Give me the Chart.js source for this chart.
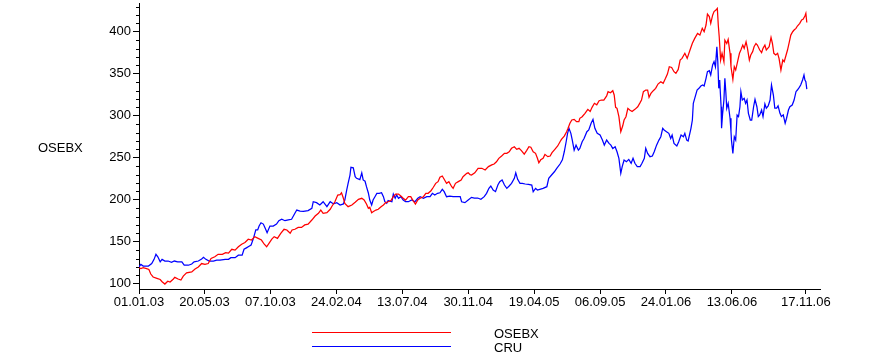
<!DOCTYPE html>
<html>
<head>
<meta charset="utf-8">
<script src="https://cdn.jsdelivr.net/npm/chart.js@4.4.1/dist/chart.umd.min.js"></script>
<style>
  html, body { margin: 0; padding: 0; background: #fff; }
  canvas { display: block; }
</style>
</head>
<body>
<canvas id="c" width="869" height="359"></canvas>
<script>
// ---- Data (x = days since 01.01.03) ----
const seriesNames = ['OSEBX', 'CRU'];
const seriesColors = ['#ff0000', '#0000ff'];
const yAxisTitle = 'OSEBX';
const xTickLabels = ['01.01.03','20.05.03','07.10.03','24.02.04','13.07.04','30.11.04','19.04.05','06.09.05','24.01.06','13.06.06','17.11.06'];
const yTickValues = [100, 150, 200, 250, 300, 350, 400];

const osebxDays = [
  0,4,9,16,21,25,30,38,45,49,
  55,61,66,73,76,83,89,94,101,112,
  119,126,133,140,147,153,161,168,177,184,
  190,197,204,211,218,225,232,239,246,253,
  260,266,271,276,282,287,294,301,308,314,
  321,325,331,338,345,352,359,367,374,381,
  386,391,399,406,410,416,422,427,430,434,
  437,444,452,459,466,473,478,483,487,490,
  494,497,503,508,514,519,524,529,535,540,
  545,551,556,561,566,572,577,582,587,592,
  597,604,609,614,620,625,630,635,639,644,
  648,653,658,664,667,672,678,684,688,696,
  699,703,706,713,720,728,735,742,749,754,
  759,764,770,776,781,786,791,797,802,807,
  812,818,823,828,832,837,842,846,849,853,
  858,862,868,873,877,883,889,894,897,903,
  908,911,915,919,924,929,934,936,941,947,
  953,958,962,967,972,977,982,987,993,996,
  1001,1006,1009,1012,1015,1019,1023,1027,1030,1034,
  1038,1042,1047,1053,1059,1064,1067,1071,1076,1080,
  1083,1087,1092,1097,1102,1108,1113,1118,1122,1126,
  1131,1136,1140,1145,1149,1153,1159,1164,1170,1175,
  1180,1186,1191,1196,1200,1204,1207,1211,1214,1218,
  1221,1225,1228,1230,1232,1235,1238,1242,1244,1248,
  1251,1255,1257,1261,1264,1267,1271,1275,1278,1282,
  1285,1289,1292,1296,1299,1303,1306,1310,1313,1318,
  1322,1325,1329,1332,1338,1342,1345,1348,1352,1356,
  1359,1363,1367,1370,1374,1377,1381,1384,1388,1391,
  1395,1398,1403,1407,1410,1414,1416,1418
];
const osebxValues = [
  119,118,119,118,117,111.5,108,106.4,105,102.4,
  99.6,103,102,105.6,107.6,105.6,104.4,109,113,114,
  117.5,120,124,123,124,130,132,135,135,137,
  136.5,141,140,144,147,149,153,152,156,154,
  152,147,144,148,153,156,154,160,164.8,164,
  160,164,164.8,167,167,170,171,175.8,180.6,183.8,
  187.7,183.8,184.5,188.6,192.5,197.6,205.6,206,208.3,201.7,
  195.7,191.7,193.7,197,200.5,201.7,199.6,194.9,189.8,191,
  184.5,185.7,187.7,188.6,191.7,193.7,196.5,197.6,199,203.6,
  206.8,206.8,204.4,201.7,199.6,203.6,203.6,199,194.9,199.6,
  201.7,203.6,207.6,207.6,210.7,214.8,219.5,221.5,226.7,228.2,
  224.3,219.5,221.5,215.5,213.5,219.5,221.5,223.5,227.4,231.4,
  232,229.8,229.4,232,237.4,237.4,235.4,239.4,241.4,242.5,
  245.2,249.3,252,255.2,255.2,257.1,261.2,263.1,260,261.2,
  258.5,254.3,258.5,263.1,262.5,257.1,255.2,249.3,244,247.5,
  249.3,254,251.3,252,256,260,264,269,271.8,275.8,
  281,285,291,294.9,295.7,293,293,296.9,298.8,302.8,
  307.6,305,310,314.8,313,317.9,318.7,318.7,323.5,328.6,
  327.4,329.8,324.7,310,308.8,298.8,281,287.7,294.9,298.8,
  308.8,306.8,305,307.6,310.7,315.6,318.7,328.6,330.6,330.6,
  321.9,326.6,329.8,332.6,337.7,340.5,338.5,344.5,349.6,358.3,
  357.5,352.4,350.4,355.1,366.3,368.3,374.3,368.3,378.2,386.2,
  392.1,398,396,404,400,408,421,418,410,419.7,
  424,425.8,427.8,408,394,366.3,374.3,364.3,390,386,
  390.9,374.3,358.3,343.3,358.3,354.4,364.3,374.3,378.2,384.1,
  380.2,388.1,380.2,366.3,372.3,376.3,382.1,386,384.1,378.2,
  375,380.2,384.1,378.2,382.1,393.3,386,374.3,372.3,374.3,
  368.3,354.4,366.3,364.3,372.3,378.2,388.1,396,400,402,
  404,406.8,410,414,414.7,418.7,421.9,411
];

const cruDays = [
  0,4,9,20,27,32,36,40,45,49,
  55,62,69,75,82,91,96,105,112,117,
  126,133,137,142,149,158,165,172,183,190,
  195,204,211,219,223,229,232,238,243,248,
  252,255,259,264,268,272,278,285,292,297,
  303,310,317,324,331,335,342,349,359,367,
  370,377,384,391,399,406,413,420,427,434,
  437,441,444,448,450,455,459,462,469,473,
  476,480,483,487,490,494,497,501,505,510,
  515,519,522,526,529,537,540,544,547,551,
  556,561,566,572,579,586,592,597,604,611,
  618,623,628,634,639,644,648,653,660,667,
  675,682,685,692,699,706,712,719,726,733,
  738,743,747,752,757,762,766,771,776,781,
  786,791,797,800,804,809,814,820,827,834,
  837,842,846,851,858,866,870,876,882,887,
  894,899,903,907,910,913,917,920,924,928,
  933,936,941,945,951,955,960,964,968,973,
  979,984,988,993,998,1002,1006,1011,1015,1019,
  1023,1026,1030,1035,1040,1045,1049,1053,1058,1064,
  1068,1073,1076,1080,1085,1090,1094,1099,1104,1108,
  1112,1115,1120,1125,1129,1132,1136,1142,1146,1151,
  1156,1159,1163,1166,1172,1175,1177,1180,1185,1189,
  1193,1197,1200,1204,1207,1211,1214,1218,1221,1224,
  1227,1229,1231,1233,1236,1237,1239,1242,1244,1246,
  1248,1251,1255,1257,1258,1261,1264,1267,1270,1273,
  1276,1278,1281,1285,1288,1291,1294,1298,1301,1305,
  1308,1312,1315,1318,1322,1325,1329,1332,1336,1340,
  1343,1347,1350,1354,1357,1361,1364,1368,1372,1375,
  1379,1382,1387,1391,1395,1398,1402,1405,1409,1412,
  1414,1416,1418
];
const cruValues = [
  120,123,121,121,124,129,135,132,126,129,
  127,127,125.5,127,126,126,122,122,123.5,126,
  127,129.4,131.4,129,127,127,128,128,129,129,
  131,131,134,134,141,143,144,146,154,164,
  164,168.7,172.6,171,166,160.7,168.7,168.7,171,175,
  176.7,175,176,176.7,183.8,187.7,186.5,186,187,189.8,
  197.6,196.5,193.7,197.6,191.7,197.6,195,196.5,193.7,195,
  199.6,211.5,219.5,229.4,238.6,238,227.4,225.5,224,232,
  223.5,222,215.5,208,199.6,193.7,199.6,203.6,207.6,207.6,
  208.3,203.6,197.6,195.7,199,197.6,206.8,201.7,205.6,201.7,
  203.6,199.6,197.6,197.6,199.6,197.6,201.7,203.6,201.7,203.6,
  203.6,207.6,205.6,207.6,208.3,212.4,209.6,203.6,204.4,203.6,
  203.6,203.6,197.6,196.5,199.6,202.8,202,202,200.5,203.6,
  207.6,213.6,216.3,211.5,209.6,217.5,221.4,223.5,217.5,213.5,
  216.3,219.5,225.5,232,224.3,219.5,219.5,218.7,218.3,217.5,
  209.5,213.5,211.5,212.4,213.5,215.5,225.5,229.4,233.3,237.4,
  242.5,247.5,257.1,269,279,285,279,271,259,265,
  259,261,269,272.8,281,283,291,295.7,285,279,
  277,271,265,271,267,265,261,263,257.1,249.3,
  231.4,239.4,247.3,245.3,248,243.4,249.3,243.4,239.4,239.4,
  243.4,249.3,261.2,255.2,251.2,252,257.1,265,271,275,
  285,283,281,279,272.8,277,267,263.9,269,277,
  275,279,271,270,285,294.9,314.8,320.7,330.6,332.6,
  335.4,336.6,335.4,344.5,352.4,353.6,348.5,360.4,364.3,358.3,
  382,364.3,332.6,342.5,310.7,285,301,318.7,344.5,328.6,
  308.8,314.8,297,281,271,255.2,275,271,300.8,299,
  310.7,328.6,318.7,320.7,314.8,318.7,302.8,294.9,294.9,310.7,
  319.5,310.7,299,301,306.8,299,314,309,311.7,318.7,
  336.5,324.6,309,309,311.7,302.8,299,301,291,297,
  306.8,310.7,312.7,318.7,328.6,330.6,333.8,336.6,342.5,348.5,
  342.5,340.5,331.6
];

// ---- helpers ----
function dayOf(label) {
  const [d, m, y] = label.split('.').map(Number);
  return Math.round((Date.UTC(2000 + y, m - 1, d) - Date.UTC(2003, 0, 1)) / 86400000);
}
const xTickDays = xTickLabels.map(dayOf);
const labelByDay = {};
xTickLabels.forEach((l, i) => { labelByDay[xTickDays[i]] = l; });

const FONT = "'Liberation Sans', Arial, sans-serif";

const extras = {
  id: 'extras',
  afterDraw(chart) {
    const ctx = chart.ctx;
    const ys = chart.scales.y;
    const left = chart.chartArea.left;
    ctx.save();
    // minor ticks on y axis
    ctx.strokeStyle = '#000';
    ctx.lineWidth = 1;
    ctx.beginPath();
    for (let v = Math.ceil(ys.min / 10) * 10; v <= ys.max; v += 10) {
      if (v % 50 === 0) continue;
      const py = Math.round(ys.getPixelForValue(v)) + 0.5;
      ctx.moveTo(left - 3, py);
      ctx.lineTo(left, py);
    }
    ctx.stroke();
    // y axis title (horizontal)
    ctx.fillStyle = '#000';
    ctx.font = '13px ' + FONT;
    ctx.textAlign = 'left';
    ctx.textBaseline = 'middle';
    ctx.fillText(yAxisTitle, 38, 148);
    // legend
    chart.data.datasets.forEach((ds, i) => {
      const y = 331.5 + i * 14.5;
      ctx.strokeStyle = ds.borderColor;
      ctx.beginPath();
      ctx.moveTo(312, Math.round(y) + 0.5);
      ctx.lineTo(451, Math.round(y) + 0.5);
      ctx.stroke();
      ctx.fillStyle = '#000';
      ctx.fillText(ds.label, 494, y + 2.5);
    });
    ctx.restore();
  }
};

new Chart(document.getElementById('c'), {
  type: 'line',
  data: {
    datasets: [
      {
        label: seriesNames[0],
        data: osebxDays.map((d, i) => ({ x: d, y: osebxValues[i] })),
        borderColor: seriesColors[0],
        borderWidth: 1.25,
        pointRadius: 0,
        tension: 0,
        fill: false
      },
      {
        label: seriesNames[1],
        data: cruDays.map((d, i) => ({ x: d, y: cruValues[i] })),
        borderColor: seriesColors[1],
        borderWidth: 1.25,
        pointRadius: 0,
        tension: 0,
        fill: false
      }
    ]
  },
  options: {
    responsive: false,
    animation: false,
    events: [],
    layout: { padding: { left: 0, top: 3, right: 49, bottom: 0 } },
    plugins: { legend: { display: false }, tooltip: { enabled: false } },
    scales: {
      x: {
        type: 'linear',
        min: 0,
        max: 1446,
        afterBuildTicks: (s) => { s.ticks = xTickDays.map(v => ({ value: v })); },
        afterFit: (s) => { s.height = 70; s.paddingLeft = 0; s.paddingRight = 0; },
        ticks: {
          autoSkip: false,
          maxRotation: 0,
          minRotation: 0,
          padding: 1,
          color: '#000',
          font: { family: FONT, size: 13 },
          callback: (v) => labelByDay[v] || ''
        },
        grid: { drawOnChartArea: false, drawTicks: true, tickLength: 5, color: '#000' },
        border: { display: true, color: '#000', width: 1 }
      },
      y: {
        type: 'linear',
        min: 93.7,
        max: 434.2,
        afterBuildTicks: (s) => { s.ticks = yTickValues.map(v => ({ value: v })); },
        afterFit: (s) => { s.width = 139; s.paddingTop = 0; s.paddingBottom = 0; },
        ticks: {
          padding: 2,
          color: '#000',
          font: { family: FONT, size: 13 }
        },
        grid: { drawOnChartArea: false, drawTicks: true, tickLength: 6, color: '#000' },
        border: { display: true, color: '#000', width: 1 }
      }
    }
  },
  plugins: [extras]
});
</script>
</body>
</html>
